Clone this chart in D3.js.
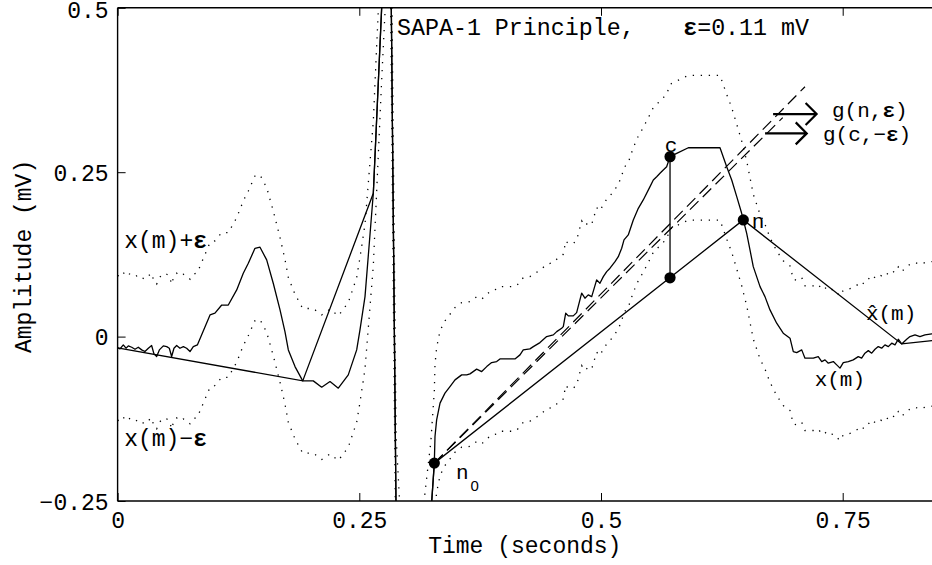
<!DOCTYPE html>
<html><head><meta charset="utf-8">
<script src="https://cdn.jsdelivr.net/npm/d3@7"></script>
<style>
html,body{margin:0;padding:0;background:#fff;}
svg{display:block;}
text{font-family:"Liberation Mono","Courier New",monospace;fill:#000;}
</style></head>
<body>
<svg id="chart" width="932" height="565"></svg>
<script>
// ---------- data ----------
const EPS = 0.11;                       // mV
const timeTicks = [0, 0.25, 0.5, 0.75];
const timeTickLabels = ["0", "0.25", "0.5", "0.75"];
const ampTicks = [-0.25, 0, 0.25, 0.5];
const ampTickLabels = ["\u22120.25", "0", "0.25", "0.5"];

// ECG signal x(m): time (s)
const sigT = [0.0000,0.0025,0.0059,0.0087,0.0111,0.0146,0.0180,0.0214,0.0249,0.0283,0.0318,0.0352,0.0376,0.0404,0.0432,0.0473,0.0508,0.0535,0.0559,0.0583,0.0611,0.0645,0.0680,0.0714,0.0749,0.0783,0.0825,
0.0956,0.1007,0.1077,0.1145,0.1232,0.1300,0.1352,0.1421,0.1473,0.1542,0.1610,0.1680,0.1731,0.1766,0.1835,0.1915,0.2024,0.2111,0.2197,0.2283,0.2386,0.2473,0.2507,0.2559,0.2645,0.2731,0.2815,0.2880,0.2960,0.3060,0.3240,0.3276,
0.3283,0.3300,0.3335,0.3386,0.3438,0.3490,0.3559,0.3611,0.3645,0.3714,0.3766,0.3818,0.3869,0.3921,0.3955,0.4110,0.4162,0.4196,0.4265,0.4300,0.4369,0.4438,0.4507,0.4542,0.4593,0.4610,0.4635,0.4662,0.4713,0.4748,
0.4800,0.4834,0.4868,0.4904,0.4955,0.4989,0.5024,0.5059,0.5093,0.5145,0.5179,0.5214,0.5238,0.5282,0.5334,0.5386,0.5437,0.5507,0.5541,0.5576,0.5610,0.5644,0.5679,0.5714,0.5783,0.5903,0.6231,0.6300,0.6352,0.6404,
0.6455,0.6472,0.6507,0.6541,0.6575,0.6645,0.6696,0.6748,0.6817,0.6885,0.6955,0.6989,0.7024,0.7076,0.7110,0.7196,0.7247,0.7283,0.7317,0.7351,0.7403,0.7438,0.7472,0.7506,0.7558,0.7609,0.7661,0.7696,0.7730,0.7765,
0.7800,0.7834,0.7868,0.7903,0.7937,0.7972,0.8007,0.8041,0.8075,0.8110,0.8162,0.8196,0.8248,0.8299,0.8351,0.8421,0.8500];
// ECG signal x(m): amplitude (mV)
const sigV = [-0.0170,-0.0187,-0.0126,-0.0176,-0.0141,-0.0162,-0.0192,-0.0162,-0.0202,-0.0227,-0.0177,-0.0136,-0.0263,-0.0303,-0.0202,-0.0141,-0.0152,-0.0177,-0.0303,-0.0177,-0.0136,-0.0177,-0.0152,-0.0177,-0.0227,-0.0152,-0.0126,
0.0330,0.0356,0.0480,0.0480,0.0710,0.0963,0.1115,0.1343,0.1359,0.1166,0.0811,0.0406,0.0076,-0.0202,-0.0456,-0.0673,-0.0673,-0.0769,-0.0684,-0.0784,-0.0582,-0.0202,0.0102,0.0608,0.2179,0.4990,0.7500,-0.2600,-0.4800,-0.5000,-0.2700,-0.1924,
-0.1520,-0.1266,-0.1012,-0.0860,-0.0760,-0.0658,-0.0582,-0.0582,-0.0567,-0.0495,-0.0532,-0.0456,-0.0395,-0.0380,-0.0339,-0.0339,-0.0278,-0.0202,-0.0187,-0.0152,-0.0091,0.0000,0.0026,0.0076,0.0128,0.0152,0.0356,0.0315,0.0315,0.0365,
0.0660,0.0584,0.0634,0.0608,0.0862,0.0812,0.0912,0.0988,0.1040,0.1140,0.1216,0.1344,0.1470,0.1546,0.1774,0.1951,0.2078,0.2280,0.2382,0.2432,0.2483,0.2534,0.2584,0.2736,0.2787,0.2872,0.2872,0.2584,0.2382,0.2128,
0.1875,0.1774,0.1571,0.1318,0.1064,0.0760,0.0608,0.0406,0.0204,0.0052,-0.0024,-0.0228,-0.0243,-0.0202,-0.0328,-0.0328,-0.0304,-0.0380,-0.0354,-0.0404,-0.0380,-0.0430,-0.0480,-0.0395,-0.0380,-0.0354,-0.0304,-0.0328,-0.0252,-0.0213,
-0.0252,-0.0192,-0.0152,-0.0176,-0.0126,-0.0152,-0.0100,-0.0126,-0.0040,-0.0111,-0.0040,0.0000,0.0026,0.0000,0.0026,0.0041,0.0030];

// SAPA approximation x^(m) vertices
const aprT = [0.0000,0.1915,0.2645,0.2731,0.2815,0.2880,0.2960,0.3060,0.3240,0.3276,0.6472,0.8110,0.8500];
const aprV = [-0.0170,-0.0673,0.2179,0.4990,0.7500,-0.2600,-0.4800,-0.5000,-0.2700,-0.1924,0.1774,-0.0111,-0.0050];

// key samples
const keyNames = ["n0", "c", "cp", "n"];
const keyT = [0.3276, 0.5714, 0.5714, 0.6472];
const keyV = [-0.1924, 0.2736, 0.0894, 0.1774];

// slope lines g(n,eps) and g(c,-eps)
const gNT = [0.3276, 0.7110];
const gNV = [-0.1924, 0.3800];
const gCT = [0.3276, 0.6880];
const gCV = [-0.1924, 0.3330];

// ---------- layout ----------
const svg = d3.select("#chart");
const mLeft = 117.6, mTop = 7.8;
const x = d3.scaleLinear().domain([0, 0.85]).range([mLeft, mLeft + 0.85 * 966.8]);
const y = d3.scaleLinear().domain([-0.25, 0.5]).range([mTop + 0.75 * 657.6, mTop]);
const X0 = x.range()[0], X1 = x.range()[1], Y0 = y.range()[0], Y1 = y.range()[1];
const FS = 23, FS2 = 21;

svg.append("defs").append("clipPath").attr("id", "clip")
  .append("rect").attr("x", X0).attr("y", Y1).attr("width", X1 - X0).attr("height", Y0 - Y1);

const plot = svg.append("g").attr("clip-path", "url(#clip)");

const sig = sigT.map((t, i) => ({t, v: sigV[i]}));
const apr = aprT.map((t, i) => ({t, v: aprV[i]}));

const line = d3.line().x(d => x(d.t)).y(d => y(d.v));

// bounds x(m) +/- eps (dotted)
[EPS, -EPS].forEach(e => {
  plot.append("path").datum(sig)
    .attr("d", d3.line().x(d => x(d.t)).y(d => y(d.v + e)))
    .attr("fill", "none").attr("stroke", "#000").attr("stroke-width", 1.3)
    .attr("stroke-dasharray", "1.3 6.7");
});

// signal
plot.append("path").datum(sig).attr("d", line)
  .attr("fill", "none").attr("stroke", "#000").attr("stroke-width", 1.3).attr("stroke-linejoin", "round");
// approximation
plot.append("path").datum(apr).attr("d", line)
  .attr("fill", "none").attr("stroke", "#000").attr("stroke-width", 1.3);

// g lines (both dashed, in phase from n0)
plot.append("path").datum(gNT.map((t, i) => ({t, v: gNV[i]}))).attr("d", line)
  .attr("fill", "none").attr("stroke", "#000").attr("stroke-width", 1.2).attr("stroke-dasharray", "12 6");
plot.append("path").datum(gCT.map((t, i) => ({t, v: gCV[i]}))).attr("d", line)
  .attr("fill", "none").attr("stroke", "#000").attr("stroke-width", 1.2).attr("stroke-dasharray", "12 6");

// vertical c -> projection
plot.append("line")
  .attr("x1", x(keyT[1])).attr("x2", x(keyT[2]))
  .attr("y1", y(keyV[1])).attr("y2", y(keyV[2]))
  .attr("stroke", "#000").attr("stroke-width", 1.3);

// markers
plot.selectAll("circle.key").data(keyT.map((t, i) => ({t, v: keyV[i]})))
  .join("circle").attr("class", "key")
  .attr("cx", d => x(d.t)).attr("cy", d => y(d.v)).attr("r", 5.6).attr("fill", "#000");

// ---------- axes (box, inward ticks) ----------
const ax = svg.append("g");
ax.append("line").attr("x1", X0).attr("x2", X1 + 2).attr("y1", Y0).attr("y2", Y0).attr("stroke", "#000").attr("stroke-width", 1.4);
ax.append("line").attr("x1", X0).attr("x2", X1 + 2).attr("y1", Y1).attr("y2", Y1).attr("stroke", "#000").attr("stroke-width", 1.4);
ax.append("line").attr("x1", X0).attr("x2", X0).attr("y1", Y1).attr("y2", Y0).attr("stroke", "#000").attr("stroke-width", 1.4);

const bottomAxis = d3.axisBottom(x).tickValues(timeTicks).tickSize(-8).tickPadding(0)
  .tickFormat((d, i) => timeTickLabels[i]);
const gB = svg.append("g").attr("transform", `translate(0,${Y0})`).call(bottomAxis);
gB.select(".domain").remove();
gB.selectAll(".tick line").attr("stroke", "#000").attr("stroke-width", 1);
gB.selectAll(".tick text").attr("font-size", FS).attr("font-family", "Liberation Mono, Courier New, monospace")
  .attr("dy", null).attr("y", 27).attr("fill", "#000");

const topAxis = d3.axisTop(x).tickValues(timeTicks).tickSize(-8).tickFormat("");
const gT = svg.append("g").attr("transform", `translate(0,${Y1})`).call(topAxis);
gT.select(".domain").remove();
gT.selectAll(".tick line").attr("stroke", "#000").attr("stroke-width", 1);

const leftAxis = d3.axisLeft(y).tickValues(ampTicks).tickSize(-8).tickPadding(9)
  .tickFormat((d, i) => ampTickLabels[i]);
const gL = svg.append("g").attr("transform", `translate(${X0},0)`).call(leftAxis);
gL.select(".domain").remove();
gL.selectAll(".tick line").attr("stroke", "#000").attr("stroke-width", 1);
gL.selectAll(".tick text").attr("font-size", FS).attr("font-family", "Liberation Mono, Courier New, monospace")
  .attr("dy", (d, i) => i === ampTicks.length - 1 ? "0.42em" : "0.36em").attr("fill", "#000");

// axis titles
svg.append("text").attr("x", (X0 + 932) / 2).attr("y", 553).attr("text-anchor", "middle")
  .attr("font-size", FS).text("Time (seconds)");
svg.append("text").attr("transform", `translate(31,${(Y0 + Y1) / 2 + 2}) rotate(-90)`)
  .attr("text-anchor", "middle").attr("font-size", FS).text("Amplitude (mV)");

// ---------- annotations ----------
function label(px, py, parts, size) {
  const t = svg.append("text").attr("x", px).attr("y", py).attr("font-size", size || FS);
  parts.forEach(p => {
    const s = t.append("tspan").text(p[0]);
    if (p[1]) s.attr("font-weight", "bold");
  });
  return t;
}
// title
label(x(0.2890), y(0.4585), [["SAPA-1 Principle,"]], 23.3);
label(x(0.5850), y(0.4585), [["\u03b5", 1], ["=0.11 mV"]], 23.3);

// bound labels
label(x(0.0068), y(0.1345), [["x(m)+"], ["\u03b5", 1]]);
label(x(0.0068), y(-0.1662), [["x(m)\u2212"], ["\u03b5", 1]]);
label(x(0.7210), y(-0.0745), [["x(m)"]], FS2);
// x-hat (combining circumflex)
label(x(0.7740), y(0.0253), [["x\u0302(m)"]], FS2);
// points
label(x(0.5660), y(0.2800), [["c"]], FS2);
label(x(0.6560), y(0.1650), [["n"]], FS2);
label(x(0.3500), y(-0.2173), [["n"]], FS2);
svg.append("text").attr("x", x(0.3650)).attr("y", y(-0.2350)).attr("font-size", 15)
  .style("font-family", "'Liberation Sans', sans-serif").text("0");

// arrows + g labels
function arrow(t0, t1, v) {
  const xa = x(t0), xb = x(t1), yy = y(v);
  svg.append("path")
    .attr("d", `M${xa},${yy}H${xb}M${xb - 11},${yy - 11}L${xb},${yy}L${xb - 11},${yy + 11}`)
    .attr("fill", "none").attr("stroke", "#000").attr("stroke-width", 2.2);
}
arrow(0.6780, 0.7230, 0.3384);
arrow(0.6697, 0.7128, 0.3090);
label(x(0.7389), y(0.3347), [["g(n,"], ["\u03b5", 1], [")"]], FS2);
label(x(0.7296), y(0.2967), [["g(c,\u2212"], ["\u03b5", 1], [")"]], FS2);
</script>
</body></html>
